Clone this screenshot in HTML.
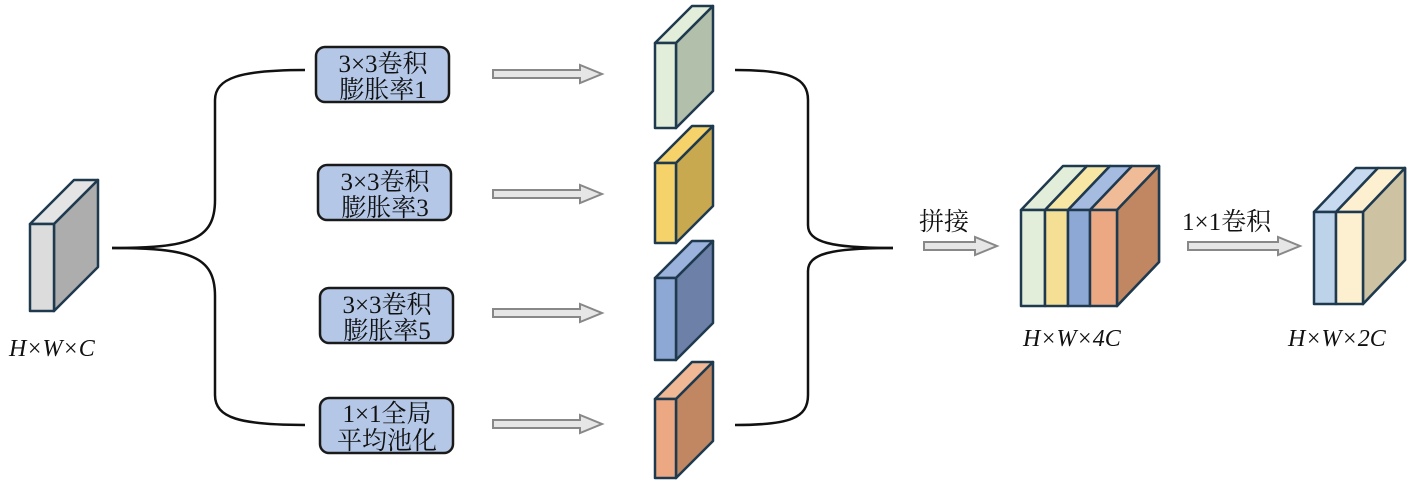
<!DOCTYPE html>
<html><head><meta charset="utf-8"><style>
html,body{margin:0;padding:0;background:#fff;}
svg{display:block;}
.t{font-family:"Liberation Serif","Noto Serif CJK SC",serif;font-size:25px;fill:#111;}
.i{font-family:"Liberation Serif",serif;font-style:italic;font-size:24px;fill:#111;}
</style></head><body>
<svg id="s" width="1417" height="489" viewBox="0 0 1417 489" xmlns="http://www.w3.org/2000/svg">
<g fill="none" stroke="#111" stroke-width="2.5">
<path d="M112,248 C190,248 215,240 215,200 L215,100 C215,78 240,70 305,70"/>
<path d="M112,248 C190,248 215,256 215,296 L215,395 C215,418 240,425 305,425"/>
<path d="M735,70 C790,70 808,78 808,100 L808,225 C808,242 830,248 893,248"/>
<path d="M735,425 C790,425 808,418 808,395 L808,271 C808,254 830,248 893,248"/>
</g>
<g fill="#b4c7e7" stroke="#1a1a1a" stroke-width="2.5">
<rect x="316" y="47" width="133" height="55" rx="9"/>
<rect x="318" y="165" width="133" height="55" rx="9"/>
<rect x="320" y="288" width="133" height="55" rx="9"/>
<rect x="320" y="398" width="133" height="55" rx="9"/>
</g>
<g class="t" text-anchor="middle">
<text x="383" y="72">3×3卷积</text><text x="383" y="98">膨胀率1</text>
<text x="385" y="190">3×3卷积</text><text x="385" y="216">膨胀率3</text>
<text x="387" y="313">3×3卷积</text><text x="387" y="339">膨胀率5</text>
<text x="387" y="422">1×1全局</text><text x="387" y="449">平均池化</text>
</g>
<g id="cubes" stroke="#1f3a4f" stroke-width="2.5" stroke-linejoin="round"></g>
<g fill="#e6e6e6" stroke="#888" stroke-width="2" id="arrows"></g>
<text class="i" x="9" y="356">H×W×C</text>
<text class="i" x="1023" y="346">H×W×4C</text>
<text class="i" x="1288" y="346">H×W×2C</text>
<text class="t" x="919" y="230">拼接</text>
<text class="t" x="1182" y="230">1×1卷积</text>
</svg>
<script>
var ns="http://www.w3.org/2000/svg";
function poly(g,pts,fill){var p=document.createElementNS(ns,"polygon");p.setAttribute("points",pts.map(a=>a.join(",")).join(" "));p.setAttribute("fill",fill);g.appendChild(p);}
var C=document.getElementById("cubes");
function cube(x,y,w,h,dx,dy,front,top,side,drawSide){
 poly(C,[[x,y],[x+w,y],[x+w+dx,y-dy],[x+dx,y-dy]],top);
 if(drawSide!==false)poly(C,[[x+w,y],[x+w+dx,y-dy],[x+w+dx,y+h-dy],[x+w,y+h]],side);
 poly(C,[[x,y],[x+w,y],[x+w,y+h],[x,y+h]],front);
}
cube(30,224,24,87,44,44,"#dcdcdc","#e4e4e4","#adadad");
cube(655,43,21,85,37,37,"#e2eed9","#e2eed9","#b2bfaa");
cube(655,163,21,80,37,37,"#f5d36a","#f5d36a","#c9a94f");
cube(655,278,21,82,37,37,"#8ea8d6","#9bb2dc","#6c80a8");
cube(655,399,21,79,37,37,"#eba882","#f0b894","#c08762");
var bx=[[1021,1045,"#e2eed9"],[1045,1068,"#f5df94"],[1068,1090,"#8ea8d6"],[1090,1117,"#eba882"]];
var tops=["#e2eed9","#f8e6a4","#a6bbe0","#f0bc98"];
poly(C,[[1117,210],[1159,166],[1159,262],[1117,306]],"#c08762");
bx.forEach(function(b,i){cube(b[0],210,b[1]-b[0],96,42,44,b[2],tops[i],"#c08762",i==3);});
poly(C,[[1363,212],[1405,168],[1405,260],[1363,304]],"#cdc3a3");
cube(1314,212,22,92,42,44,"#bdd3ea","#c6d9ee","#cdc3a3",false);
cube(1336,212,27,92,42,44,"#fdf0d0","#fdf0d0","#cdc3a3");
var A=document.getElementById("arrows");
function arrow(x1,x2,y){var hw=22,s=4,h=9;poly(A,[[x1,y-s],[x2-hw,y-s],[x2-hw,y-h],[x2,y],[x2-hw,y+h],[x2-hw,y+s],[x1,y+s]],"#e6e6e6");}
arrow(493,602,74);arrow(493,602,194);arrow(493,602,313);arrow(493,602,424);
arrow(924,997,246);arrow(1188,1300,246);
</script>
</body></html>
